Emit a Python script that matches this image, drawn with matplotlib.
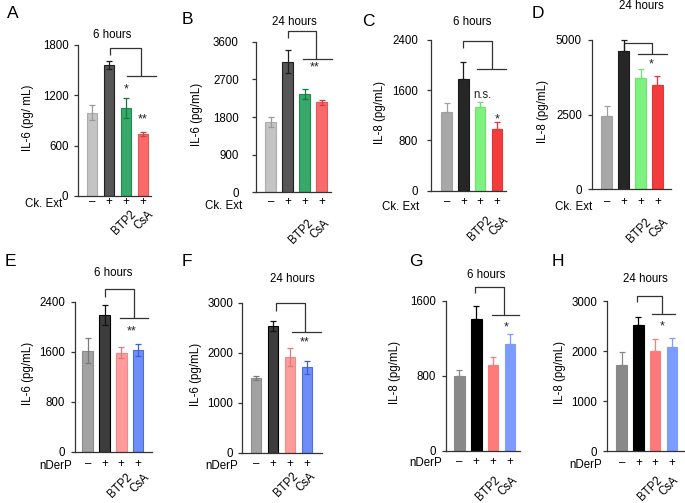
import matplotlib
matplotlib.use("Agg")
import matplotlib.pyplot as plt

plt.rcParams['font.family'] = ['Liberation Sans', 'DejaVu Sans']

W, H = 685, 503

# ---------------- data ----------------
sign_labels = ["–", "+", "+", "+"]
drug_labels = ["BTP2", "CsA"]

A_mean = [993, 1562, 1053, 735]
A_err = [92, 51, 119, 24]
B_mean = [1673, 3122, 2350, 2150]
B_err = [119, 279, 111, 64]
C_mean = [1248, 1773, 1327, 977]
C_err = [143, 282, 80, 111]
D_mean = [2455, 4632, 3737, 3493]
D_err = [335, 358, 302, 301]
E_mean = [1616, 2187, 1584, 1622]
E_err = [198, 160, 86, 96]
F_mean = [1500, 2533, 1920, 1707]
F_err = [40, 107, 180, 126]
G_mean = [797, 1408, 911, 1138]
G_err = [64, 139, 86, 104]
H_mean = [1720, 2520, 2000, 2087]
H_err = [253, 167, 233, 166]

A_ticks = [0, 600, 1200, 1800]
B_ticks = [0, 900, 1800, 2700, 3600]
C_ticks = [0, 800, 1600, 2400]
D_ticks = [0, 2500, 5000]
E_ticks = [0, 800, 1600, 2400]
F_ticks = [0, 1000, 2000, 3000]
G_ticks = [0, 800, 1600]
H_ticks = [0, 1000, 2000, 3000]

# significance labels (text, bar position, height)
A_sig = [("*", 2, 1270), ("**", 3, 910)]
B_sig = [("**", 2.6, 2980)]
C_sig = [("n.s.", 2.15, 1524), ("*", 3, 1130)]
D_sig = [("*", 2.66, 4180)]
E_sig = [("**", 2.62, 1930)]
F_sig = [("**", 2.88, 2210)]
G_sig = [("*", 2.76, 1310)]
H_sig = [("*", 2.43, 2500)]

# ---------------- styles ----------------
col_AB = dict(face=['#c4c4c4', '#565656', '#38a96b', '#fa6a6a'],
              edge=['#acacac', '#1f1f1f', '#1d8c4f', '#e85555'],
              err=['#9a9a9a', '#1f1f1f', '#157a3f', '#d43d3d'], two=True)
col_CD = dict(face=['#a8a8a8', '#262626', '#7ef27e', '#f43c3c'],
              edge=['#a0a0a0', '#1a1a1a', '#70e070', '#e83434'],
              err=['#a0a0a0', '#1a1a1a', '#6ee06e', '#e83434'], two=False)
col_EF = dict(face=['#a2a2a2', '#3c3c3c', '#ff9b9b', '#6d8ef7'],
              edge=['#8c8c8c', '#000000', '#f08a8a', '#4a6ee0'],
              err=['#7a7a7a', '#111111', '#e07a7a', '#3d5fd0'], two=True)
col_GH = dict(face=['#898989', '#000000', '#ff7b7b', '#7c9cff'],
              edge=['#898989', '#000000', '#ff7b7b', '#7c9cff'],
              err=['#898989', '#000000', '#ff7b7b', '#7c9cff'], two=False)

panels = [
    dict(letter="A", mean=A_mean, err=A_err, ticks=A_ticks, sig=A_sig, col=col_AB,
         ylabel="IL-6 (pg/ mL)", title="6 hours", row="Ck. Ext",
         sx=78, rx=151, y0=196, yt=45, gx=92, sp=17,
         br=(1.06, 2.88, 1761, 1681, 1430, 2.08, 3.76),
         letter_xy=(7, 14), title_xy=(112, 35), ylab_x=28, row_xy=(62, 204),
         sign_dy=6.5, rot=(4, 12), tickpad=5.4),
    dict(letter="B", mean=B_mean, err=B_err, ticks=B_ticks, sig=B_sig, col=col_AB,
         ylabel="IL-6 (pg/mL)", title="24 hours", row="Ck. Ext",
         sx=256, rx=331, y0=192.3, yt=41.7, gx=270.7, sp=17,
         br=(1.0, 2.66, 3855, 3695, 3179, 1.88, 3.62),
         letter_xy=(182, 19), title_xy=(294, 22), ylab_x=197, row_xy=(242, 206),
         sign_dy=9.4, rot=(2, 25), tickpad=13),
    dict(letter="C", mean=C_mean, err=C_err, ticks=C_ticks, sig=C_sig, col=col_CD,
         ylabel="IL-8 (pg/mL)", title="6 hours", row="Ck. Ext",
         sx=431, rx=506, y0=190.7, yt=40, gx=446.7, sp=16.7,
         br=(1.0, 2.69, 2390, 2268, 1934, 1.83, 3.53),
         letter_xy=(362, 21), title_xy=(472.5, 22), ylab_x=380, row_xy=(419, 207),
         sign_dy=11.3, rot=(6, 24), tickpad=8.5),
    dict(letter="D", mean=D_mean, err=D_err, ticks=D_ticks, sig=D_sig, col=col_CD,
         ylabel="IL-8 (pg/mL)", title="24 hours", row="Ck. Ext",
         sx=591.7, rx=671, y0=189.3, yt=40, gx=606.7, sp=16.9,
         br=(1.0, 2.66, 4911, 4643, 4532, 1.83, 3.55),
         letter_xy=(532, 14), title_xy=(641, 6), ylab_x=543, row_xy=(592, 207),
         sign_dy=12.4, rot=(5, 27), tickpad=5.7),
    dict(letter="E", mean=E_mean, err=E_err, ticks=E_ticks, sig=E_sig, col=col_EF,
         ylabel="IL-6 (pg/mL)", title="6 hours", row="nDerP",
         sx=75, rx=152, y0=451.7, yt=301.7, gx=87.7, sp=16.8,
         br=(1.03, 2.76, 2598, 2480, 2134, 1.92, 3.61),
         letter_xy=(5, 262), title_xy=(113, 273), ylab_x=28, row_xy=(72, 466),
         sign_dy=12.6, rot=(5, 20), tickpad=5.7),
    dict(letter="F", mean=F_mean, err=F_err, ticks=F_ticks, sig=F_sig, col=col_EF,
         ylabel="IL-6 (pg/mL)", title="24 hours", row="nDerP",
         sx=241.7, rx=322, y0=452.7, yt=302.7, gx=256, sp=17,
         br=(1.15, 2.88, 3000, 2840, 2420, 2.1, 3.8),
         letter_xy=(182, 262), title_xy=(292, 279), ylab_x=196, row_xy=(238, 466),
         sign_dy=11.6, rot=(2, 18), tickpad=4.1),
    dict(letter="G", mean=G_mean, err=G_err, ticks=G_ticks, sig=G_sig, col=col_GH,
         ylabel="IL-8 (pg/mL)", title="6 hours", row="nDerP",
         sx=446, rx=520, y0=450.7, yt=300.7, gx=459.3, sp=16.9,
         br=(0.93, 2.64, 1749, 1679, 1448, 1.92, 3.54),
         letter_xy=(409, 262), title_xy=(486, 275), ylab_x=395, row_xy=(442, 463),
         sign_dy=11.6, rot=(1, 24), tickpad=5.7),
    dict(letter="H", mean=H_mean, err=H_err, ticks=H_ticks, sig=H_sig, col=col_GH,
         ylabel="IL-8 (pg/mL)", title="24 hours", row="nDerP",
         sx=606.7, rx=684, y0=451, yt=301, gx=621.7, sp=16.7,
         br=(0.93, 2.43, 3107, 2973, 2733, 1.8, 3.19),
         letter_xy=(552, 262), title_xy=(645, 279), ylab_x=560, row_xy=(602, 465),
         sign_dy=12.3, rot=(1, 23), tickpad=5.1),
]

fig = plt.figure(figsize=(W / 100, H / 100), dpi=100)
FS = 8.3
spine_col = '#333333'


def ftext(x, y, s, **kw):
    fig.text(x / W, 1 - y / H, s, **kw)


for p in panels:
    ymax = p['ticks'][-1]
    ax = fig.add_axes([p['sx'] / W, (H - p['y0']) / H,
                       (p['rx'] - p['sx']) / W, (p['y0'] - p['yt']) / H])
    ax.set_xlim((p['sx'] - p['gx']) / p['sp'], (p['rx'] - p['gx']) / p['sp'])
    ax.set_ylim(0, ymax)
    xs = list(range(len(p['mean'])))
    col = p['col']
    ax.bar(xs, p['mean'], width=0.63, color=col['face'], edgecolor=col['edge'],
           linewidth=0.8, zorder=2)
    for i in xs:
        lower = p['err'][i] if col['two'] else 0
        ax.errorbar(i, p['mean'][i], yerr=[[lower], [p['err'][i]]], fmt='none',
                    ecolor=col['err'][i], elinewidth=0.9, capsize=2.2,
                    capthick=0.9, zorder=3, clip_on=False)
    for s in ['top', 'right']:
        ax.spines[s].set_visible(False)
    for s in ['left', 'bottom']:
        ax.spines[s].set_color(spine_col)
        ax.spines[s].set_linewidth(0.9)
    ax.set_yticks(p['ticks'])
    ax.set_yticklabels([str(t) for t in p['ticks']], fontsize=FS)
    ax.tick_params(axis='y', length=3, width=0.9, color=spine_col,
                   pad=p['tickpad'] * 0.72)
    ax.set_xticks([])
    ax.patch.set_alpha(0)

    # bracket
    x1, xv, ytop, ytick, ylow, xh1, xh2 = p['br']
    ax.plot([x1, x1, xv, xv], [ytick, ytop, ytop, ylow], color=spine_col,
            lw=0.9, clip_on=False, solid_capstyle='butt')
    ax.plot([xh1, xh2], [ylow, ylow], color=spine_col, lw=0.9, clip_on=False)
    for txt, xx, yy in p['sig']:
        ax.text(xx, yy, txt, ha='center', va='center',
                fontsize=9 if txt != "n.s." else FS, color='#222222')

    # sign row
    for i, s in zip(xs, sign_labels):
        ax.annotate(s, xy=(i, 0), xytext=(0, -p['sign_dy'] * 0.72),
                    textcoords='offset points', ha='center', va='center',
                    fontsize=FS, annotation_clip=False)
    dx, dy = p['rot']
    for i, s in zip([2, 3], drug_labels):
        ax.annotate(s, xy=(i, 0), xytext=(dx * 0.72, -dy * 0.72),
                    textcoords='offset points', ha='right', va='top',
                    rotation=45, rotation_mode='anchor', fontsize=FS,
                    annotation_clip=False)

    ftext(*p['row_xy'], p['row'], ha='right', va='center', fontsize=FS)
    ftext(*p['title_xy'], p['title'], ha='center', va='center', fontsize=FS)
    ftext(*p['letter_xy'], p['letter'], ha='left', va='center', fontsize=12.5)
    ftext(p['ylab_x'], (p['y0'] + p['yt']) / 2 - 3, p['ylabel'], ha='center',
          va='center', rotation=90, fontsize=FS)

fig.savefig("out.png", dpi=100)
